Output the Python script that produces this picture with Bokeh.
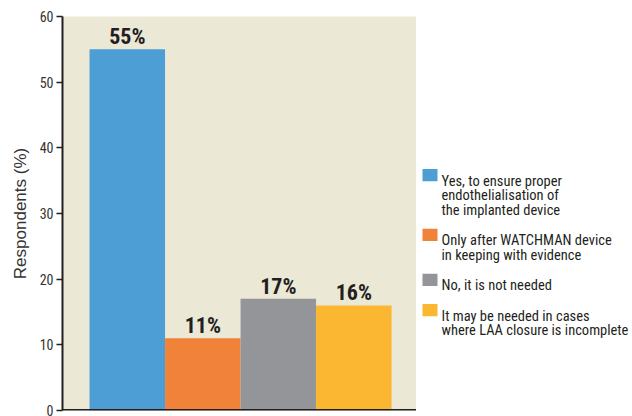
from bokeh.plotting import figure
from bokeh.layouts import row
from bokeh.models import Range1d, ColumnDataSource, FixedTicker, LabelSet, Span
from bokeh.embed import file_html
from bokeh.resources import INLINE
from bokeh.core.properties import value

categories = [
    "Yes, to ensure proper\nendothelialisation of\nthe implanted device",
    "Only after WATCHMAN device\nin keeping with evidence",
    "No, it is not needed",
    "It may be needed in cases\nwhere LAA closure is incomplete",
]
values = [55, 11, 17, 16]
labels = ["55%", "11%", "17%", "16%"]
colors = ["#4C9ED4", "#F1823A", "#949599", "#FBB731"]
yticks = [0, 10, 20, 30, 40, 50, 60]

COND = "'Liberation Sans Narrow', 'Roboto Condensed', 'DejaVu Sans Condensed', 'Arial Narrow', sans-serif"
INK = "#231F20"

xs = [i + 0.5 for i in range(len(categories))]
src = ColumnDataSource(dict(x=xs, top=values, color=colors, label=labels))

p = figure(width=416, height=416, output_backend="svg", toolbar_location=None, title=None,
           x_range=Range1d(-0.358, 4.33), y_range=Range1d(0, 60),
           min_border_left=62, min_border_right=0, min_border_top=16, min_border_bottom=6)
p.background_fill_color = "#ECE8D6"
p.border_fill_color = "white"
p.outline_line_color = None
p.grid.visible = False

p.vbar(x="x", top="top", width=1.0, bottom=0, color="color", line_color=None, source=src)

lbl = LabelSet(x="x", y="top", text="label", source=src, text_align="center",
               text_baseline="bottom", y_offset=0, text_font=value(COND), text_font_style="bold",
               text_font_size="22px", text_color=INK)
p.add_layout(lbl)

p.xaxis.visible = False
p.add_layout(Span(location=0, dimension="width", line_color=INK, line_width=3))

ya = p.yaxis[0]
ya.ticker = FixedTicker(ticks=yticks)
ya.axis_line_color = INK
ya.axis_line_width = 2
ya.major_tick_line_color = INK
ya.major_tick_line_width = 1.5
ya.major_tick_in = 0
ya.major_tick_out = 6
ya.minor_tick_line_color = None
ya.major_label_text_font = COND
ya.major_label_text_font_size = "14px"
ya.major_label_text_color = "#333333"
ya.major_label_standoff = 3
ya.axis_label = "Respondents (%)"
ya.axis_label_text_font = "Liberation Sans"
ya.axis_label_text_font_style = "normal"
ya.axis_label_text_font_size = "17px"
ya.axis_label_text_color = "#333333"
ya.axis_label_standoff = 7

# ---- legend panel (screen-like coordinates: y grows downward) ----
pl = figure(width=216, height=416, output_backend="svg", toolbar_location=None, title=None,
            x_range=Range1d(0, 216), y_range=Range1d(416, 0),
            min_border_left=0, min_border_right=0, min_border_top=0, min_border_bottom=0)
pl.axis.visible = False
pl.grid.visible = False
pl.outline_line_color = None
pl.background_fill_color = "white"

LINE_H = 15.5
ITEM_GAP = 32
FIRST_BASE = 174
SW_LEFT, SW_W, SW_H = 6, 15, 13
TEXT_X = 25

sq = dict(left=[], right=[], top=[], bottom=[], color=[])
tx = dict(x=[], y=[], text=[])
base = FIRST_BASE
for cat, col in zip(categories, colors):
    lines = cat.split("\n")
    sq["left"].append(SW_LEFT)
    sq["right"].append(SW_LEFT + SW_W)
    sq["top"].append(base - SW_H)
    sq["bottom"].append(base)
    sq["color"].append(col)
    for j, ln in enumerate(lines):
        tx["x"].append(TEXT_X)
        tx["y"].append(base + j * LINE_H)
        tx["text"].append(ln)
    base = base + (len(lines) - 1) * LINE_H + ITEM_GAP

pl.quad(left="left", right="right", top="top", bottom="bottom", color="color",
        line_color=None, source=ColumnDataSource(sq))
pl.text(x="x", y="y", text="text", source=ColumnDataSource(tx), text_font=value(COND),
        text_font_size="14.5px", text_color=INK, text_baseline="alphabetic", text_align="left")

layout = row(p, pl, spacing=0)
open("out.html", "w").write(file_html(layout, INLINE))
